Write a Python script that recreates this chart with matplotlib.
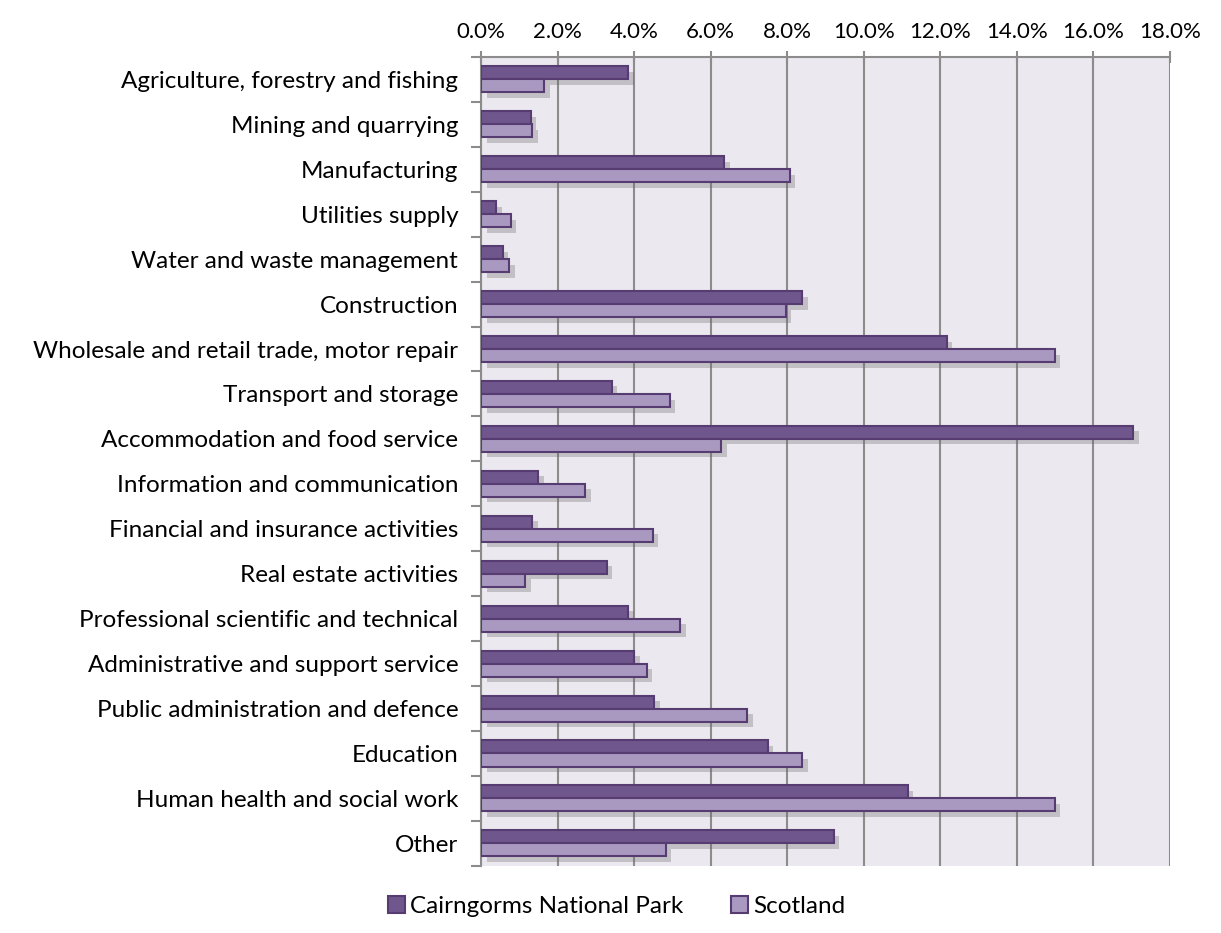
import numpy as np
import matplotlib.pyplot as plt
import matplotlib.patheffects as pe
from matplotlib.patches import Patch
from matplotlib.ticker import FuncFormatter, MultipleLocator, FixedLocator

plt.rcParams['font.family'] = ['Lato', 'DejaVu Sans']

# 行业分类（从上到下）
categories = [
    'Agriculture, forestry and fishing',
    'Mining and quarrying',
    'Manufacturing',
    'Utilities supply',
    'Water and waste management',
    'Construction',
    'Wholesale and retail trade, motor repair',
    'Transport and storage',
    'Accommodation and food service',
    'Information and communication',
    'Financial and insurance activities',
    'Real estate activities',
    'Professional scientific and technical',
    'Administrative and support service',
    'Public administration and defence',
    'Education',
    'Human health and social work',
    'Other',
]
cairngorms = [3.84, 1.30, 6.35, 0.39, 0.57, 8.40, 12.17, 3.42, 17.05, 1.49,
              1.33, 3.29, 3.84, 4.00, 4.52, 7.49, 11.15, 9.22]
scotland = [1.65, 1.33, 8.07, 0.78, 0.73, 7.96, 14.99, 4.93, 6.27, 2.72,
            4.49, 1.15, 5.20, 4.33, 6.95, 8.40, 14.99, 4.83]
series_names = ['Cairngorms National Park', 'Scotland']

dark = '#6f578d'
light = '#a999c1'
edge = '#563c70'

fig = plt.figure(figsize=(12.21, 9.33), dpi=100)
ax = fig.add_axes([0.394, 0.072, 0.564, 0.867])
ax.set_facecolor('#ebe8ef')

y = np.arange(len(categories))
h = 0.29
shadow = [pe.SimplePatchShadow(offset=(4, -4), shadow_rgbFace='#666666', alpha=0.3), pe.Normal()]
b1 = ax.barh(y - h / 2, cairngorms, height=h, color=dark, edgecolor=edge, linewidth=1.5, zorder=3)
b2 = ax.barh(y + h / 2, scotland, height=h, color=light, edgecolor=edge, linewidth=1.5, zorder=3)
for bar in list(b1) + list(b2):
    bar.set_path_effects(shadow)

ax.set_xlim(0, 18)
ax.set_ylim(len(categories) - 0.5, -0.5)
ax.xaxis.set_major_locator(MultipleLocator(2))
ax.xaxis.set_major_formatter(FuncFormatter(lambda v, p: f'{v:.1f}%'))
ax.xaxis.tick_top()
ax.grid(axis='x', color='#8c8c8c', linewidth=1.5, zorder=0)
ax.set_axisbelow(True)

ax.set_yticks(y)
ax.set_yticklabels(categories)
ax.tick_params(axis='y', length=0, labelsize=17.5, pad=16.5)
ax.yaxis.set_minor_locator(FixedLocator(np.arange(-0.5, len(categories), 1)))
ax.tick_params(axis='y', which='minor', length=7, color='#8c8c8c', width=1.5)
ax.tick_params(axis='x', labelsize=16, length=8, direction='inout', color='#8c8c8c',
               width=1.5, pad=7)

for side in ['right', 'bottom']:
    ax.spines[side].set_visible(False)
for side in ['top', 'left']:
    ax.spines[side].set_color('#8c8c8c')
    ax.spines[side].set_linewidth(1.5)

# 图例不带阴影
handles = [Patch(facecolor=dark, edgecolor=edge, linewidth=1.5),
           Patch(facecolor=light, edgecolor=edge, linewidth=1.5)]
fig.legend(handles=handles, labels=series_names, loc='center', bbox_to_anchor=(0.505, 0.028),
           ncol=2, frameon=False, fontsize=17.5, handlelength=0.7, handleheight=0.7,
           handletextpad=0.2, columnspacing=2.0)

plt.savefig('out.png', dpi=100)
